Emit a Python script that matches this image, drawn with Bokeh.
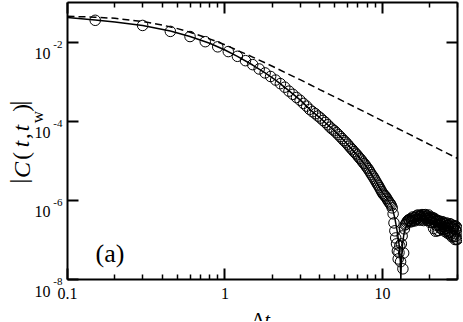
import numpy as np
from bokeh.plotting import figure
from bokeh.models import FixedTicker, Label, LogAxis, CustomJSTickFormatter, Range1d
from bokeh.embed import file_html
from bokeh.resources import INLINE

# ---------------- data ----------------
dt = [
    0.15, 0.30, 0.45, 0.60, 0.75, 0.90, 1.05, 1.20, 1.35, 1.50,
    1.65, 1.80, 1.95, 2.10, 2.25, 2.40, 2.55, 2.70, 2.85, 3.00,
    3.15, 3.30, 3.45, 3.60, 3.75, 3.90, 4.05, 4.20, 4.35, 4.50,
    4.65, 4.80, 4.95, 5.10, 5.25, 5.40, 5.55, 5.70, 5.85, 6.00,
    6.15, 6.30, 6.45, 6.60, 6.75, 6.90, 7.05, 7.20, 7.35, 7.50,
    7.65, 7.80, 7.95, 8.10, 8.25, 8.40, 8.55, 8.70, 8.85, 9.00,
    9.15, 9.30, 9.45, 9.60, 9.75, 9.90, 10.05, 10.20, 10.35, 10.50,
    10.65, 10.80, 10.95, 11.10, 11.25, 11.40, 11.55, 11.70, 11.85, 12.00,
    12.15, 12.30, 12.45, 12.60, 12.75, 12.90, 13.05, 13.20, 13.35, 13.50,
    13.65, 13.80, 13.95, 14.10, 14.25, 14.40, 14.55, 14.70, 14.85, 15.00,
    15.15, 15.30, 15.45, 15.60, 15.75, 15.90, 16.05, 16.20, 16.35, 16.50,
    16.65, 16.80, 16.95, 17.10, 17.25, 17.40, 17.55, 17.70, 17.85, 18.00,
    18.15, 18.30, 18.45, 18.60, 18.75, 18.90, 19.05, 19.20, 19.35, 19.50,
    19.65, 19.80, 19.95, 20.10, 20.25, 20.40, 20.55, 20.70, 20.85, 21.00,
    21.15, 21.30, 21.45, 21.60, 21.75, 21.90, 22.05, 22.20, 22.35, 22.50,
    22.65, 22.80, 22.95, 23.10, 23.25, 23.40, 23.55, 23.70, 23.85, 24.00,
    24.15, 24.30, 24.45, 24.60, 24.75, 24.90, 25.05, 25.20, 25.35, 25.50,
    25.65, 25.80, 25.95, 26.10, 26.25, 26.40, 26.55, 26.70, 26.85, 27.00,
    27.15, 27.30, 27.45, 27.60, 27.75, 27.90, 28.05, 28.20, 28.35, 28.50,
    28.65, 28.80, 28.95, 29.10, 29.25, 29.40, 29.55, 29.70, 29.85, 30.00,
]
# log10 |C(t, t_w)| of the simulation points (circles)
log10_C = [
    -1.45, -1.58, -1.73, -1.86, -1.99, -2.12, -2.24, -2.36, -2.47, -2.57,
    -2.68, -2.78, -2.87, -2.96, -3.05, -3.14, -3.24, -3.32, -3.40, -3.47,
    -3.55, -3.62, -3.70, -3.76, -3.81, -3.87, -3.92, -3.98, -4.03, -4.09,
    -4.15, -4.20, -4.24, -4.29, -4.34, -4.39, -4.44, -4.49, -4.53, -4.58,
    -4.63, -4.68, -4.72, -4.77, -4.81, -4.85, -4.90, -4.94, -4.98, -5.03,
    -5.07, -5.11, -5.16, -5.20, -5.25, -5.30, -5.35, -5.39, -5.44, -5.49,
    -5.54, -5.59, -5.63, -5.68, -5.73, -5.78, -5.82, -5.86, -5.88, -5.91,
    -5.95, -5.99, -6.03, -6.06, -6.09, -6.13, -6.19, -6.34, -6.57, -6.77,
    -6.95, -7.10, -7.28, -7.48, -7.32, -7.15, -7.55, -7.10, -6.90, -7.73,
    -7.33, -6.72, -6.62, -6.60, -6.56, -6.53, -6.51, -6.49, -6.50, -6.54,
    -6.46, -6.54, -6.47, -6.42, -6.51, -6.44, -6.52, -6.42, -6.49, -6.39,
    -6.46, -6.37, -6.49, -6.42, -6.39, -6.50, -6.39, -6.44, -6.36, -6.47,
    -6.40, -6.51, -6.37, -6.43, -6.36, -6.47, -6.40, -6.50, -6.40, -6.46,
    -6.37, -6.51, -6.43, -6.56, -6.42, -6.47, -6.55, -6.43, -6.55, -6.48,
    -6.71, -6.45, -6.55, -6.48, -6.78, -6.52, -6.63, -6.50, -6.77, -6.52,
    -6.63, -6.76, -6.52, -6.62, -6.55, -6.71, -6.59, -6.70, -6.55, -6.66,
    -6.54, -6.74, -6.61, -6.58, -6.73, -6.65, -6.79, -6.59, -6.71, -6.57,
    -6.77, -6.64, -6.83, -6.63, -6.68, -6.82, -6.62, -6.78, -6.59, -6.87,
    -6.67, -6.81, -6.61, -6.92, -6.72, -6.65, -6.88, -6.70, -6.92, -6.66,
    -6.83, -6.64, -6.99, -6.74, -6.91, -6.66, -6.99, -6.79, -6.71, -6.98,
]

# solid curve (fit); |C| goes through zero near dt = 13.1
fit_dt = [0.1, 0.15, 0.2, 0.3, 0.45, 0.6, 0.8, 1.0, 1.2, 1.5,
          1.8, 2.1, 2.5, 3.0, 3.5, 4.0, 4.7, 5.5, 6.3, 7.0,
          8.0, 9.0, 10.0, 10.5, 11.0, 11.5, 12.0, 12.5, 12.8, 13.0,
          13.1, 13.2, 13.4, 13.7, 14.0, 14.5, 15.0, 16.0,
          17.0, 18.0, 19.0, 20.0, 21.0, 22.0, 23.0, 24.0, 25.0, 26.0,
          27.0, 28.0, 29.0, 30.0]
fit_log10_C = [-1.38, -1.44, -1.49, -1.58, -1.72, -1.86, -2.03, -2.20, -2.36, -2.58,
               -2.78, -2.96, -3.20, -3.46, -3.72, -3.91, -4.16, -4.42, -4.68, -4.88,
               -5.17, -5.49, -5.80, -5.91, -6.03, -6.16, -6.45, -6.85, -7.15, -7.55,
               -8.0, -7.55, -7.15, -6.85, -6.70, -6.58, -6.52, -6.48,
               -6.47, -6.47, -6.48, -6.50, -6.53, -6.56, -6.60, -6.63, -6.66, -6.70,
               -6.73, -6.77, -6.80, -6.84]

# dashed curve
dash_dt = [0.1, 0.15, 0.2, 0.3, 0.4, 0.5, 0.6, 0.7, 0.85, 1.0, 1.25,
           1.5, 2.0, 2.5, 3.0, 4.0, 5.0, 7.0, 10.0, 15.0, 20.0, 30.0]
dash_log10_C = [-1.35, -1.37, -1.40, -1.48, -1.57, -1.66, -1.75, -1.84, -1.96, -2.07, -2.24,
                -2.38, -2.61, -2.80, -2.95, -3.20, -3.39, -3.68, -3.99, -4.34, -4.59, -4.94]

x_lim = (0.1, 30.0)
y_lim = (1e-8, 1e-1)
x_ticks = [0.1, 1.0, 10.0]
x_tick_labels = ["0.1", "1", "10"]
x_minor = [0.2, 0.3, 0.4, 0.5, 0.6, 0.7, 0.8, 0.9, 2, 3, 4, 5, 6, 7, 8, 9, 20, 30]
y_ticks = [1e-8, 1e-6, 1e-4, 1e-2]
y_tick_base = ["10", "10", "10", "10"]
y_tick_exp = ["-8", "-6", "-4", "-2"]

# ---------------- layout (pixels) ----------------
SERIF = "Liberation Serif"
W, H = 462, 321
BOX_L, BOX_R, BOX_T, BOX_B = 67, 457, 2, 279   # plotting box inside the frame

lx0, lx1 = np.log10(x_lim[0]), np.log10(x_lim[1])
ly0, ly1 = np.log10(y_lim[0]), np.log10(y_lim[1])
dec_x = (BOX_R - BOX_L) / (lx1 - lx0)
dec_y = (BOX_B - BOX_T) / (ly1 - ly0)
x_range = Range1d(10 ** (lx0 - BOX_L / dec_x), 10 ** (lx1 + (W - BOX_R) / dec_x))
y_range = Range1d(10 ** (ly0 - (H - BOX_B) / dec_y), 10 ** (ly1 + BOX_T / dec_y))

p = figure(frame_width=W, frame_height=H, x_axis_type="log", y_axis_type="log",
           x_axis_location=None, y_axis_location=None,
           x_range=x_range, y_range=y_range,
           output_backend="svg", toolbar_location=None,
           min_border=0)
p.grid.visible = False
p.outline_line_color = None
p.background_fill_color = "white"
p.border_fill_color = "white"

bottom = LogAxis(fixed_location=y_lim[0], bounds=x_lim)
top = LogAxis(fixed_location=y_lim[1], bounds=x_lim)
left = LogAxis(fixed_location=x_lim[0], bounds=y_lim)
right = LogAxis(fixed_location=x_lim[1], bounds=y_lim)
p.add_layout(bottom, "below")
p.add_layout(top, "above")
p.add_layout(left, "left")
p.add_layout(right, "right")

blank = CustomJSTickFormatter(code="return '';")
xfmt = CustomJSTickFormatter(args=dict(vals=x_ticks, labs=x_tick_labels), code="""
const i = vals.findIndex(v => Math.abs(Math.log10(v) - Math.log10(tick)) < 1e-6);
return i >= 0 ? labs[i] : '';
""")

for ax in (bottom, top):
    ax.ticker = FixedTicker(ticks=x_ticks, minor_ticks=x_minor)
for ax in (left, right):
    ax.ticker = FixedTicker(ticks=y_ticks, minor_ticks=[])
for ax in (bottom, top, left, right):
    ax.axis_line_width = 2
    ax.axis_line_color = "black"
    ax.major_tick_in = 11
    ax.major_tick_out = 0
    ax.minor_tick_in = 5
    ax.minor_tick_out = 0
    ax.major_tick_line_width = 2
    ax.minor_tick_line_width = 1.5
    ax.major_tick_line_color = "black"
    ax.minor_tick_line_color = "black"
for ax in (top, left, right):
    ax.formatter = blank
    ax.major_label_standoff = 0
    ax.major_label_text_font_size = "1px"
bottom.formatter = xfmt
bottom.major_label_text_font = SERIF
bottom.major_label_text_font_size = "16px"
bottom.major_label_text_color = "black"
bottom.major_label_standoff = 8

# ---------------- data glyphs ----------------
C = 10 ** np.array(log10_C)
fitC = 10 ** np.array(fit_log10_C)
dashC = 10 ** np.array(dash_log10_C)

p.line(dash_dt, dashC, line_color="black", line_width=1.5, line_dash="7 4")
p.line(fit_dt, fitC, line_color="black", line_width=1.5)
p.scatter(dt, C, marker="circle", size=10.5, fill_color=None,
          line_color="black", line_width=1)

# ---------------- text ----------------
def lab(text, x, y, dx, dy, size, style="normal", align="left",
        baseline="alphabetic", angle=0.0):
    p.add_layout(Label(x=x, y=y, x_units="data", y_units="data",
                       x_offset=dx, y_offset=dy, text=text,
                       text_font=SERIF, text_font_size=f"{size}px",
                       text_font_style=style, text_align=align,
                       text_baseline=baseline, angle=angle,
                       text_color="black"))

x0 = x_lim[0]
# y tick labels 10^n
for t, b, e in zip(y_ticks, y_tick_base, y_tick_exp):
    lab(b, x0, t, -17, -11.5, 16, align="right")
    lab(e, x0, t, -5, -2, 11, align="right")

# y axis title |C(t,t_w)|
yc = 10 ** ((ly0 + ly1) / 2)
rot = np.pi / 2
lab("|", x0, yc, -49, 38, 25, align="center", angle=rot)
lab(")", x0, yc, -46, 33, 23, align="center", angle=rot)
lab("w", x0, yc, -30, 24, 17, align="center", angle=rot)
lab("t", x0, yc, -46, 13, 23, style="italic", align="center", angle=rot)
lab(",", x0, yc, -46, 5, 23, align="center", angle=rot)
lab("t", x0, yc, -46, -3, 23, style="italic", align="center", angle=rot)
lab("(", x0, yc, -46, -15, 23, align="center", angle=rot)
lab("C", x0, yc, -46, -29, 24, style="italic", align="center", angle=rot)
lab("|", x0, yc, -49, -40, 25, align="center", angle=rot)

# x axis title  Δt
xc = 10 ** ((lx0 + lx1) / 2)
lab("\u0394", xc, y_lim[0], 2, -40, 20, align="right")
lab("t", xc, y_lim[0], 2, -40, 20, style="italic", align="left")

# panel tag
lab("(a)", x0, y_lim[0], 28, 26, 26)

open("out.html", "w").write(file_html(p, INLINE))
